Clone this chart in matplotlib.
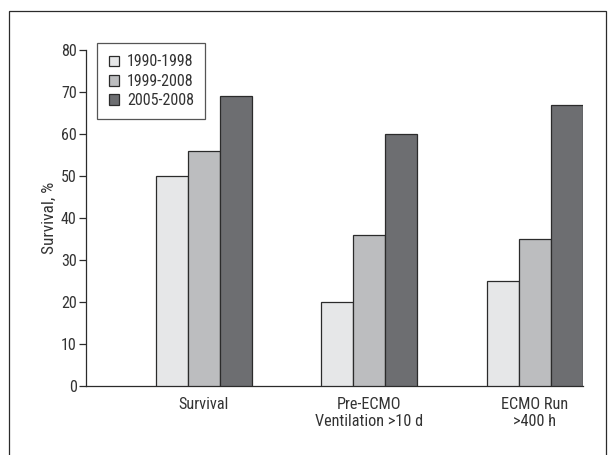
import matplotlib
matplotlib.use("Agg")
import matplotlib.pyplot as plt
from matplotlib.patches import Rectangle
import numpy as np

categories = ["Survival", "Pre-ECMO\nVentilation >10 d", "ECMO Run\n>400 h"]
series_names = ["1990-1998", "1999-2008", "2005-2008"]
v_1990_1998 = [50, 20, 25]
v_1999_2008 = [56, 36, 35]
v_2005_2008 = [69, 60, 67]
yticks = [0, 10, 20, 30, 40, 50, 60, 70, 80]

colors = ["#e6e7e8", "#bcbdbf", "#6d6e71"]
edge = "#2b2b2b"
txt = "#333333"

plt.rcParams["font.family"] = ["Roboto Condensed", "Liberation Sans", "DejaVu Sans"]

W, H = 611, 455
fig = plt.figure(figsize=(W / 100, H / 100), dpi=100)
ax = fig.add_axes([85.7 / W, 1 - 386 / H, (583 - 85.7) / W, (386 - 50) / H])

x = np.arange(len(categories))
bw = 0.193
for i, (vals, name) in enumerate(zip([v_1990_1998, v_1999_2008, v_2005_2008], series_names)):
    ax.bar(x + (i - 1) * bw, vals, width=bw, color=colors[i], edgecolor=edge,
           linewidth=0.9, label=name, zorder=3)

ax.set_xlim(-0.713, 2.29)
ax.set_ylim(0, 80)
ax.set_yticks(yticks)
ax.set_xticks(x)
ax.set_xticklabels(categories, fontsize=11.7, color=txt, linespacing=1.15)
ax.tick_params(axis="x", length=0, pad=8)
ax.tick_params(axis="y", length=5, width=0.9, color=edge, labelsize=11.5, labelcolor=txt, pad=1.5)
for s in ["top", "right"]:
    ax.spines[s].set_visible(False)
for s in ["left", "bottom"]:
    ax.spines[s].set_color(edge)
    ax.spines[s].set_linewidth(0.9)
ax.set_ylabel("Survival, %", fontsize=12.5, color=txt, labelpad=3)

leg = ax.legend(loc="upper left", bbox_to_anchor=(97.4 / W, 1 - 43.3 / H),
                bbox_transform=fig.transFigure, frameon=True, fancybox=False,
                fontsize=11.5, handlelength=0.65, handleheight=0.65, handletextpad=0.5,
                labelspacing=0.27, borderpad=0.7, borderaxespad=0)
leg.get_frame().set_edgecolor(edge)
leg.get_frame().set_linewidth(0.9)
for t in leg.get_texts():
    t.set_color(txt)

# outer frame (bottom edge lies outside the image)
fig.patches.append(Rectangle((9.3 / W, -0.05), (605.8 - 9.3) / W, 1.05 - 10.7 / H,
                             transform=fig.transFigure, fill=False,
                             edgecolor=edge, linewidth=0.9))

fig.savefig("out.png", dpi=100)
